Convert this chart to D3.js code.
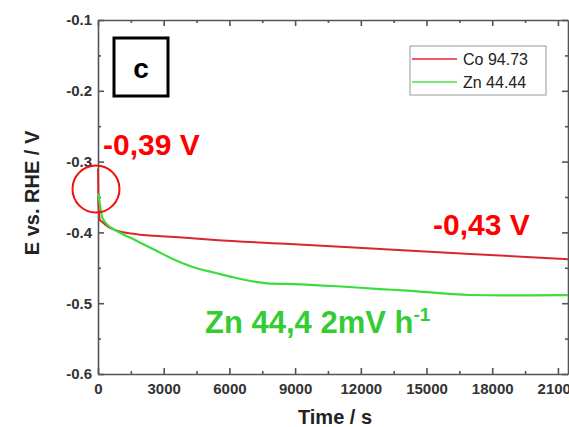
<!DOCTYPE html>
<html>
<head>
<meta charset="utf-8">
<script src="https://cdn.jsdelivr.net/npm/d3@7"></script>
<style>
  body { margin: 0; background: #fff; }
  svg { display: block; font-family: Arial, "Liberation Sans", sans-serif; }
  .ax path, .ax line { stroke: #555; stroke-width: 1.6; }
  .ax text { font-size: 15px; font-weight: bold; fill: #333; font-family: Arial, "Liberation Sans", sans-serif; }
</style>
</head>
<body>
<svg id="chart" width="569" height="427"></svg>
<script>
// Co 94.73 - potential vs time
var coTime = [0, 20, 91, 183, 457, 776, 1690, 3516, 5342, 8767, 12877, 17000, 21460];
var coE = [-0.31, -0.36, -0.3825, -0.385, -0.392, -0.3966, -0.4023, -0.4065, -0.4107, -0.4164, -0.4234, -0.4304, -0.438];
// Zn 44.44
var znTime = [0, 46, 183, 457, 776, 1689, 2603, 3516, 4429, 5342, 6164, 7717, 9224, 10731, 12877, 14110, 16986, 18500, 21460];
var znE = [-0.345, -0.352, -0.378, -0.39, -0.3966, -0.4107, -0.425, -0.439, -0.45, -0.457, -0.4634, -0.4719, -0.4733, -0.4757, -0.48, -0.4823, -0.4884, -0.489, -0.4885];

var xTicks = [0, 3000, 6000, 9000, 12000, 15000, 18000, 21000];
var yTicks = [-0.6, -0.5, -0.4, -0.3, -0.2, -0.1];
var seriesNames = ["Co 94.73", "Zn 44.44"];

var svg = d3.select("#chart");
var pL = 98, pR = 568, pT = 20, pB = 374;

var x = d3.scaleLinear().domain([0, 21460]).range([pL, pR]);
var y = d3.scaleLinear().domain([-0.6, -0.1]).range([pB, pT]);

var xMinor = d3.range(1500, 21460, 3000);
var yMinor = [-0.55, -0.45, -0.35, -0.25, -0.15];

// clip for lines (a bit wider on the left so the t=0 spike shows)
svg.append("clipPath").attr("id", "plotclip")
  .append("rect").attr("x", pL - 1.5).attr("y", pT).attr("width", pR - pL + 1.5).attr("height", pB - pT);

var line = d3.line()
  .x(function(d) { return x(d[0]); })
  .y(function(d) { return y(d[1]); })
  .curve(d3.curveMonotoneX);

var coData = coTime.map(function(t, i) { return [t, coE[i]]; });
var znData = znTime.map(function(t, i) { return [t, znE[i]]; });

// axes (ticks pointing inward)
svg.append("g").attr("class", "ax").attr("transform", "translate(0," + pB + ")")
  .call(d3.axisBottom(x).tickValues(xTicks).tickSizeInner(-6).tickSizeOuter(0).tickPadding(9).tickFormat(d3.format("d")));
svg.append("g").attr("class", "ax").attr("transform", "translate(0," + pB + ")")
  .call(d3.axisBottom(x).tickValues(xMinor).tickSize(-3).tickFormat(""))
  .select(".domain").remove();
svg.append("g").attr("class", "ax").attr("transform", "translate(0," + pT + ")")
  .call(d3.axisTop(x).tickValues(xTicks).tickSizeInner(-6).tickSizeOuter(0).tickFormat(""));
svg.append("g").attr("class", "ax").attr("transform", "translate(0," + pT + ")")
  .call(d3.axisTop(x).tickValues(xMinor).tickSize(-3).tickFormat(""))
  .select(".domain").remove();

svg.append("g").attr("class", "ax").attr("transform", "translate(" + pL + ",0)")
  .call(d3.axisLeft(y).tickValues(yTicks).tickSizeInner(-6).tickSizeOuter(0).tickPadding(6)
    .tickFormat(function(d) { return d.toFixed(1); }));
svg.append("g").attr("class", "ax").attr("transform", "translate(" + pL + ",0)")
  .call(d3.axisLeft(y).tickValues(yMinor).tickSize(-3).tickFormat(""))
  .select(".domain").remove();
svg.append("g").attr("class", "ax").attr("transform", "translate(" + pR + ",0)")
  .call(d3.axisRight(y).tickValues(yTicks).tickSizeInner(-6).tickSizeOuter(0).tickFormat(""));
svg.append("g").attr("class", "ax").attr("transform", "translate(" + pR + ",0)")
  .call(d3.axisRight(y).tickValues(yMinor).tickSize(-3).tickFormat(""))
  .select(".domain").remove();

var g = svg.append("g").attr("clip-path", "url(#plotclip)");
g.append("path").datum(coData).attr("d", line)
  .attr("fill", "none").attr("stroke", "#d9272e").attr("stroke-width", 2);
g.append("path").datum(znData).attr("d", line)
  .attr("fill", "none").attr("stroke", "#3ddc3d").attr("stroke-width", 2.2);

// axis titles
svg.append("text").attr("x", 335).attr("y", 424).attr("text-anchor", "middle")
  .attr("font-size", 20).attr("font-weight", "bold").attr("fill", "#222").text("Time / s");
svg.append("text").attr("transform", "translate(39,193) rotate(-90)").attr("text-anchor", "middle")
  .attr("font-size", 20).attr("font-weight", "bold").attr("fill", "#222").text("E vs. RHE / V");

// panel label
svg.append("rect").attr("x", 114).attr("y", 38).attr("width", 54).attr("height", 58)
  .attr("fill", "#fff").attr("stroke", "#000").attr("stroke-width", 3);
svg.append("text").attr("x", 141).attr("y", 78).attr("text-anchor", "middle")
  .attr("font-size", 28).attr("font-weight", "bold").attr("fill", "#000").text("c");

// legend
var legend = svg.append("g");
legend.append("rect").attr("x", 410).attr("y", 46).attr("width", 136).attr("height", 49)
  .attr("fill", "#fff").attr("stroke", "#999").attr("stroke-width", 1);
var legColors = ["#e8222f", "#4ce04c"];
seriesNames.forEach(function(name, i) {
  var ly = 59 + i * 23;
  legend.append("line").attr("x1", 412).attr("x2", 457).attr("y1", ly).attr("y2", ly)
    .attr("stroke", legColors[i]).attr("stroke-width", 1.6);
  legend.append("text").attr("x", 463).attr("y", ly + 6).attr("font-size", 16).attr("fill", "#222").text(name);
});

// annotations
svg.append("circle").attr("cx", 96).attr("cy", 189).attr("r", 23.5)
  .attr("fill", "none").attr("stroke", "#f01010").attr("stroke-width", 2);
svg.append("text").attr("x", 103).attr("y", 155).attr("font-size", 30).attr("font-weight", "bold")
  .attr("fill", "#ff0000").text("-0,39 V");
svg.append("text").attr("x", 433).attr("y", 235).attr("font-size", 30).attr("font-weight", "bold")
  .attr("fill", "#ff0000").text("-0,43 V");
var zt = svg.append("text").attr("x", 205).attr("y", 333).attr("font-size", 31).attr("font-weight", "bold")
  .attr("fill", "#33cc33");
zt.append("tspan").text("Zn 44,4 2mV h");
zt.append("tspan").attr("font-size", 19).attr("dy", -12).text("-1");
</script>
</body>
</html>
